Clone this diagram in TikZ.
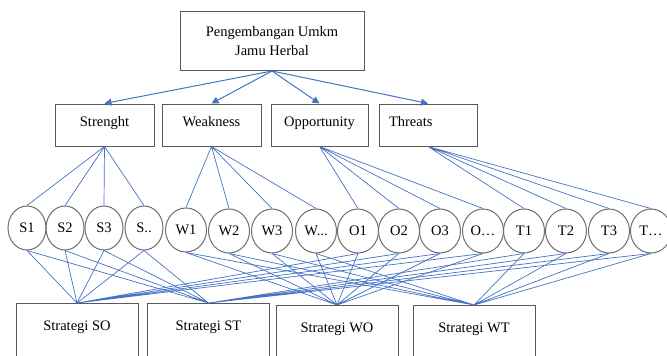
\documentclass[tikz,border=0pt]{standalone}
\usepackage{fontspec}
\setmainfont{Liberation Serif}
\usetikzlibrary{arrows.meta,shapes.geometric}
\definecolor{wordblue}{HTML}{4472C4}
\definecolor{boxgray}{HTML}{595959}
\definecolor{ringgray}{HTML}{6E6E6E}
\tikzset{
    box/.style={draw=boxgray,line width=1pt,rectangle,inner sep=0pt},
    factor/.style={box,minimum width=98pt,text height=22pt,text depth=20pt},
    strategy/.style={box,anchor=north,minimum width=122pt,text height=11pt,text depth=44pt,inner ysep=16pt},
    item/.style={draw=ringgray,line width=1pt,ellipse,minimum width=41pt,minimum height=44pt,inner sep=0pt},
    sitem/.style={item,minimum width=38pt},
    link/.style={wordblue,line width=0.7pt},
    branch/.style={wordblue,line width=1pt,-{Triangle[length=7pt,width=7pt]}}
}
\begin{document}
\begin{tikzpicture}[x=1pt,y=-1pt,font=\fontsize{14.5}{19}\selectfont]
    \clip (0,0) rectangle (667,356);
    % goal
    \node[box,minimum width=184pt,minimum height=59pt,align=center] (goal) at (272,41) {Pengembangan Umkm\\Jamu Herbal};
    % swot factors
    \node[factor,minimum width=99pt] (str) at (104.5,125) {Strenght};
    \node[factor,minimum width=99pt] (wea) at (211.5,125) {Weakness};
    \node[factor,minimum width=97pt] (opp) at (319.5,125) {Opportunity};
    \node[factor,text width=78pt,align=left] (thr) at (428,125) {Threats};
    \draw[branch] (goal.south) -- (str.north);
    \draw[branch] (goal.south) -- (wea.north);
    \draw[branch] (goal.south) -- (opp.north);
    \draw[branch] (goal.south) -- (thr.north);
    % items
    \node[sitem] (s1) at (27,228) {S1};
    \node[sitem] (s2) at (65,228) {S2};
    \node[sitem] (s3) at (104,228) {S3};
    \node[sitem] (s4) at (144,228) {S..};
    \node[item] (w1) at (186,230) {W1};
    \node[item] (w2) at (229,231) {W2};
    \node[item] (w3) at (272,231) {W3};
    \node[item] (w4) at (316,231) {W...};
    \node[item] (o1) at (358,231) {O1};
    \node[item] (o2) at (399,231) {O2};
    \node[item] (o3) at (440,231) {O3};
    \node[item] (o4) at (483,231) {O…};
    \node[item] (t1) at (524,231) {T1};
    \node[item] (t2) at (566,231) {T2};
    \node[item] (t3) at (609,231) {T3};
    \node[item] (t4) at (651,231) {T…};
    \draw[link] (str.south) -- (s1.north) (str.south) -- (s2.north) (str.south) -- (s3.north) (str.south) -- (s4.north);
    \draw[link] (wea.south) -- (w1.north) (wea.south) -- (w2.north) (wea.south) -- (w3.north) (wea.south) -- (w4.north);
    \draw[link] (opp.south) -- (o1.north) (opp.south) -- (o2.north) (opp.south) -- (o3.north) (opp.south) -- (o4.north);
    \draw[link] (thr.south) -- (t1.north) (thr.south) -- (t2.north) (thr.south) -- (t3.north) (thr.south) -- (t4.north);
    % strategies
    \node[strategy] (so) at (77,303) {Strategi SO};
    \node[strategy] (st) at (208.5,303) {Strategi ST};
    \node[strategy] (wo) at (337,305) {Strategi WO};
    \node[strategy] (wt) at (474,305) {Strategi WT};
    \draw[link] (s1.south) -- (so.north) (s2.south) -- (so.north) (s3.south) -- (so.north) (s4.south) -- (so.north);
    \draw[link] (o1.south) -- (so.north) (o2.south) -- (so.north) (o3.south) -- (so.north) (o4.south) -- (so.north);
    \draw[link] (s1.south) -- (st.north) (s2.south) -- (st.north) (s3.south) -- (st.north) (s4.south) -- (st.north);
    \draw[link] (t1.south) -- (st.north) (t2.south) -- (st.north) (t3.south) -- (st.north) (t4.south) -- (st.north);
    \draw[link] (w1.south) -- (wo.north) (w2.south) -- (wo.north) (w3.south) -- (wo.north) (w4.south) -- (wo.north);
    \draw[link] (o1.south) -- (wo.north) (o2.south) -- (wo.north) (o3.south) -- (wo.north) (o4.south) -- (wo.north);
    \draw[link] (w1.south) -- (wt.north) (w2.south) -- (wt.north) (w3.south) -- (wt.north) (w4.south) -- (wt.north);
    \draw[link] (t1.south) -- (wt.north) (t2.south) -- (wt.north) (t3.south) -- (wt.north) (t4.south) -- (wt.north);
\end{tikzpicture}
\end{document}
